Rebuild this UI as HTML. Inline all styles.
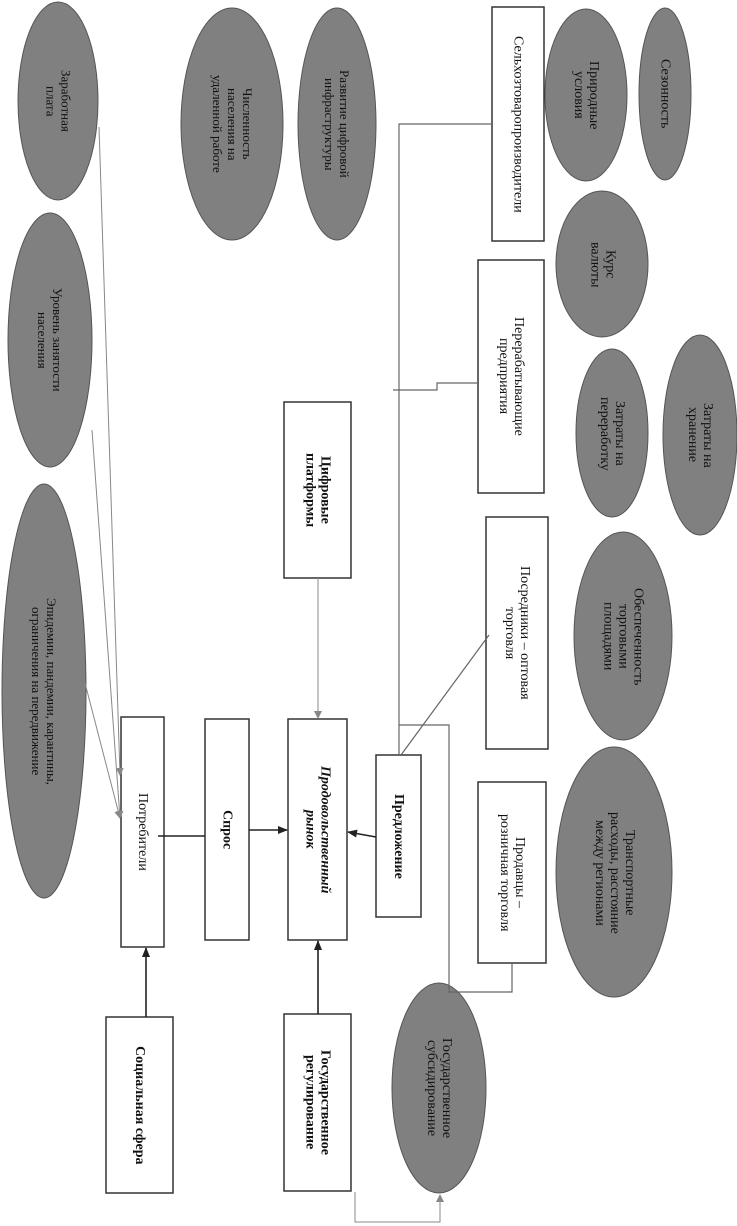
<!DOCTYPE html>
<html><head><meta charset="utf-8"><style>
body{margin:0;background:#fff;}
#c{position:relative;width:737px;height:1226px;overflow:hidden;font-family:"Liberation Serif",serif;color:#111;}
svg{position:absolute;left:0;top:0;}
.t{position:absolute;display:flex;align-items:center;justify-content:center;writing-mode:vertical-rl;text-align:center;font-size:13px;line-height:15px;}
.b{font-weight:bold;font-size:14px;}
</style></head><body><div id="c">
<svg width="737" height="1226" viewBox="0 0 737 1226">
<defs>
<marker id="ag" markerWidth="8" markerHeight="8" refX="7" refY="4" orient="auto" markerUnits="userSpaceOnUse"><path d="M0,0 L8,4 L0,8 z" fill="#888"/></marker>
<marker id="ab" markerWidth="10" markerHeight="10" refX="9" refY="5" orient="auto" markerUnits="userSpaceOnUse"><path d="M0,1 L10,5 L0,9 z" fill="#222"/></marker>
</defs>
<g fill="#808080" stroke="#555" stroke-width="1">
<ellipse cx="58" cy="101" rx="40" ry="99"/>
<ellipse cx="50" cy="340" rx="42" ry="127"/>
<ellipse cx="44" cy="691" rx="42" ry="207"/>
<ellipse cx="232" cy="124" rx="51" ry="116"/>
<ellipse cx="337" cy="124" rx="39" ry="116"/>
<ellipse cx="586" cy="95" rx="41" ry="86"/>
<ellipse cx="665" cy="94" rx="26" ry="86"/>
<ellipse cx="602" cy="264" rx="46" ry="73"/>
<ellipse cx="612" cy="433" rx="36" ry="84"/>
<ellipse cx="700" cy="435" rx="37" ry="100"/>
<ellipse cx="623" cy="636" rx="49" ry="104"/>
<ellipse cx="614" cy="872" rx="58" ry="125"/>
<ellipse cx="439" cy="1088" rx="47" ry="105"/>
</g>
<g fill="#fff" stroke="#333" stroke-width="1.5">
<rect x="492" y="7" width="52" height="234"/>
<rect x="478" y="260" width="66" height="233"/>
<rect x="284" y="402" width="67" height="176"/>
<rect x="486" y="517" width="62" height="232"/>
<rect x="478" y="782" width="68" height="181"/>
<rect x="121" y="717" width="43" height="230"/>
<rect x="205" y="719" width="44" height="221"/>
<rect x="288" y="719" width="59" height="221"/>
<rect x="376" y="755" width="45" height="162"/>
<rect x="106" y="1017" width="67" height="176"/>
<rect x="284" y="1014" width="67" height="177"/>
</g>
<g fill="none" stroke="#666" stroke-width="1.2">
<polyline points="492,124 399,124 399,755"/>
<polyline points="478,383 437,383 437,390 393,390"/>
<polyline points="399,725 449,725 449,992 512,992 512,963"/>
<line x1="489" y1="635" x2="401" y2="755"/>
</g>
<g stroke="#888" stroke-width="1" fill="none">
<line x1="99" y1="127" x2="120" y2="775" marker-end="url(#ag)"/>
<line x1="92" y1="430" x2="120" y2="818" marker-end="url(#ag)"/>
<line x1="85" y1="683" x2="120" y2="818" marker-end="url(#ag)"/>
<line x1="318" y1="578" x2="318" y2="718" marker-end="url(#ag)"/>
<polyline points="355,1192 355,1222 440,1222 440,1195" marker-end="url(#ag)"/>
</g>
<g stroke="#222" stroke-width="1.6" fill="none">
<line x1="158" y1="836" x2="205" y2="836"/>
<line x1="249" y1="830" x2="287" y2="830" marker-end="url(#ab)"/>
<line x1="376" y1="837" x2="348" y2="832" marker-end="url(#ab)"/>
<line x1="146" y1="1017" x2="146" y2="948" marker-end="url(#ab)"/>
<line x1="318" y1="1014" x2="318" y2="941" marker-end="url(#ab)"/>
</g>
</svg>
<div class="t" style="left:18px;top:2px;width:81px;height:198px">Заработная<br>плата</div>
<div class="t" style="left:8px;top:213px;width:84px;height:254px">Уровень занятости<br>населения</div>
<div class="t" style="left:2px;top:485px;width:84px;height:413px">Эпидемии, пандемии, карантины,<br>ограничения на передвижение</div>
<div class="t" style="left:181px;top:8px;width:103px;height:232px">Численность<br>населения на<br>удаленной работе</div>
<div class="t" style="left:298px;top:8px;width:78px;height:232px">Развитие цифровой<br>инфраструктуры</div>
<div class="t" style="left:492px;top:7px;width:52px;height:234px;font-size:14px">Сельхозтоваропроизводители</div>
<div class="t" style="left:545px;top:9px;width:82px;height:172px;font-size:14px">Природные<br>условия</div>
<div class="t" style="left:639px;top:8px;width:52px;height:172px;font-size:14px">Сезонность</div>
<div class="t" style="left:557px;top:192px;width:91px;height:145px;font-size:14px">Курс<br>валюты</div>
<div class="t" style="left:478px;top:260px;width:66px;height:233px;font-size:14px">Перерабатывающие<br>предприятия</div>
<div class="t" style="left:576px;top:350px;width:72px;height:167px;font-size:14px">Затраты на<br>переработку</div>
<div class="t" style="left:663px;top:335px;width:74px;height:200px;font-size:14px">Затраты на<br>хранение</div>
<div class="t b" style="left:284px;top:402px;width:67px;height:176px">Цифровые<br>платформы</div>
<div class="t" style="left:486px;top:517px;width:62px;height:232px;font-size:14px">Посредники – оптовая<br>торговля</div>
<div class="t" style="left:574px;top:533px;width:98px;height:207px;font-size:14px">Обеспеченность<br>торговыми<br>площадями</div>
<div class="t" style="left:556px;top:748px;width:117px;height:249px;font-size:14px">Транспортные<br>расходы, расстояние<br>между регионами</div>
<div class="t" style="left:478px;top:782px;width:68px;height:181px;font-size:14px">Продавцы –<br>розничная торговля</div>
<div class="t" style="left:121px;top:717px;width:43px;height:230px;font-size:14px">Потребители</div>
<div class="t b" style="left:205px;top:719px;width:44px;height:221px">Спрос</div>
<div class="t b" style="left:288px;top:719px;width:59px;height:221px;font-style:italic">Продовольственный<br>рынок</div>
<div class="t b" style="left:376px;top:755px;width:45px;height:162px">Предложение</div>
<div class="t b" style="left:106px;top:1017px;width:67px;height:176px">Социальная сфера</div>
<div class="t b" style="left:284px;top:1014px;width:67px;height:177px">Государственное<br>регулирование</div>
<div class="t" style="left:392px;top:983px;width:94px;height:210px;font-size:14px">Государственное<br>субсидирование</div>
</div></body></html>
